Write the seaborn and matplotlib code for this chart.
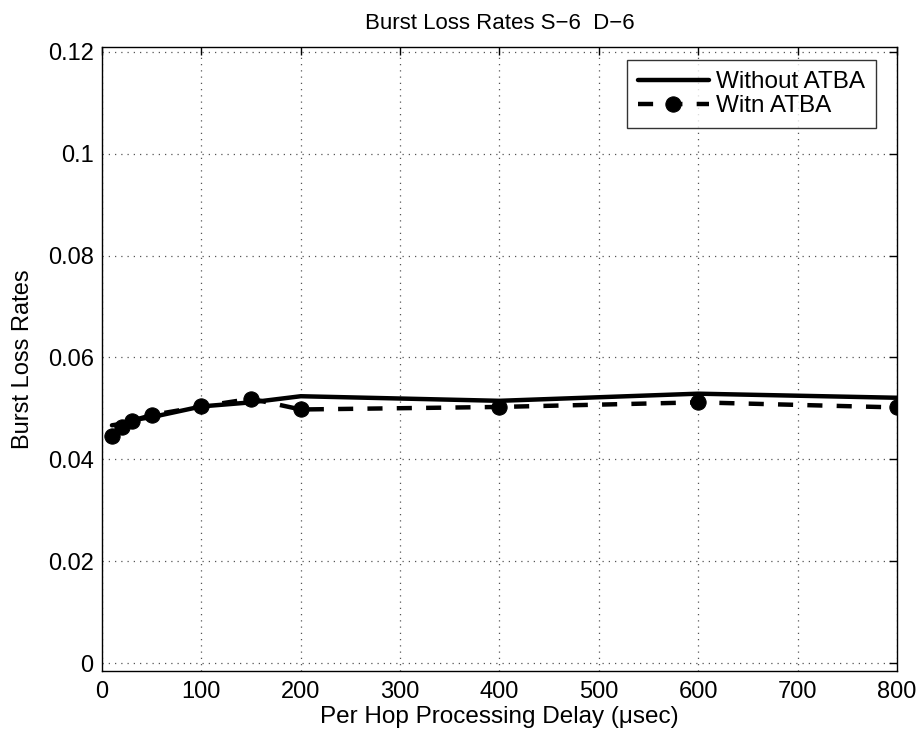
import matplotlib
matplotlib.use("Agg")
import matplotlib.pyplot as plt
import seaborn as sns
import pandas as pd

delays = [10, 20, 30, 50, 100, 150, 200, 400, 600, 800]
without_atba = [0.0467, 0.0470, 0.0477, 0.0483, 0.0504, 0.0512, 0.0524, 0.0515, 0.0529, 0.0521]
with_atba = [0.0446, 0.0463, 0.0476, 0.0487, 0.0504, 0.0519, 0.0498, 0.0503, 0.0512, 0.0502]
xticks = [0, 100, 200, 300, 400, 500, 600, 700, 800]
yticks = [0, 0.02, 0.04, 0.06, 0.08, 0.1, 0.12]
ytick_labels = ["0", "0.02", "0.04", "0.06", "0.08", "0.1", "0.12"]

sns.set_style("white")
plt.rcParams["font.family"] = ["Liberation Sans", "DejaVu Sans"]
plt.rcParams["text.color"] = "black"
plt.rcParams["axes.labelcolor"] = "black"
plt.rcParams["xtick.color"] = "black"
plt.rcParams["ytick.color"] = "black"

fig = plt.figure(figsize=(9.19, 7.40), dpi=100)
ax = fig.add_axes([0.111, 0.0932, 0.865, 0.8433])

df1 = pd.DataFrame({"x": delays, "y": without_atba})
df2 = pd.DataFrame({"x": delays, "y": with_atba})
sns.lineplot(data=df1, x="x", y="y", ax=ax, color="black", linewidth=3.2,
             label="Without ATBA")
sns.lineplot(data=df2, x="x", y="y", ax=ax, color="black", linewidth=3.2,
             linestyle=(0, (3.4, 3.2)), marker="o", markersize=11,
             markeredgecolor="black", markerfacecolor="black", label="Witn ATBA")

ax.set_xlim(0, 800)
ax.set_ylim(-0.0015, 0.1209)
ax.set_xticks(xticks)
ax.set_xticklabels([str(t) for t in xticks])
ax.set_yticks(yticks)
ax.set_yticklabels(ytick_labels)
ax.tick_params(direction="in", length=6, width=1, labelsize=17, top=True, right=True,
               color="black", labelcolor="black")
ax.tick_params(axis="x", pad=7)
ax.tick_params(axis="y", pad=6)
ax.grid(True, linestyle=(0, (1, 4)), color="#555555", linewidth=0.9)
for s in ax.spines.values():
    s.set_visible(True)
    s.set_color("black")
    s.set_linewidth(1.0)

ax.set_xlabel("Per Hop Processing Delay (μsec)", fontsize=17.5, labelpad=2, color="black")
ax.set_ylabel("Burst Loss Rates", fontsize=17, labelpad=10, color="black")
ax.set_title("Burst Loss Rates S\u22126  D\u22126", fontsize=16, pad=13, color="black")

leg = ax.legend(loc="upper right", bbox_to_anchor=(0.9736, 0.979), fontsize=17.5,
                frameon=True, fancybox=False, edgecolor="black",
                handlelength=2.9, borderaxespad=0.0, handletextpad=0.3,
                borderpad=0.45, labelspacing=0.1)
leg.get_frame().set_linewidth(1.0)
for t in leg.get_texts():
    t.set_color("black")

fig.savefig("out.png", dpi=100)
